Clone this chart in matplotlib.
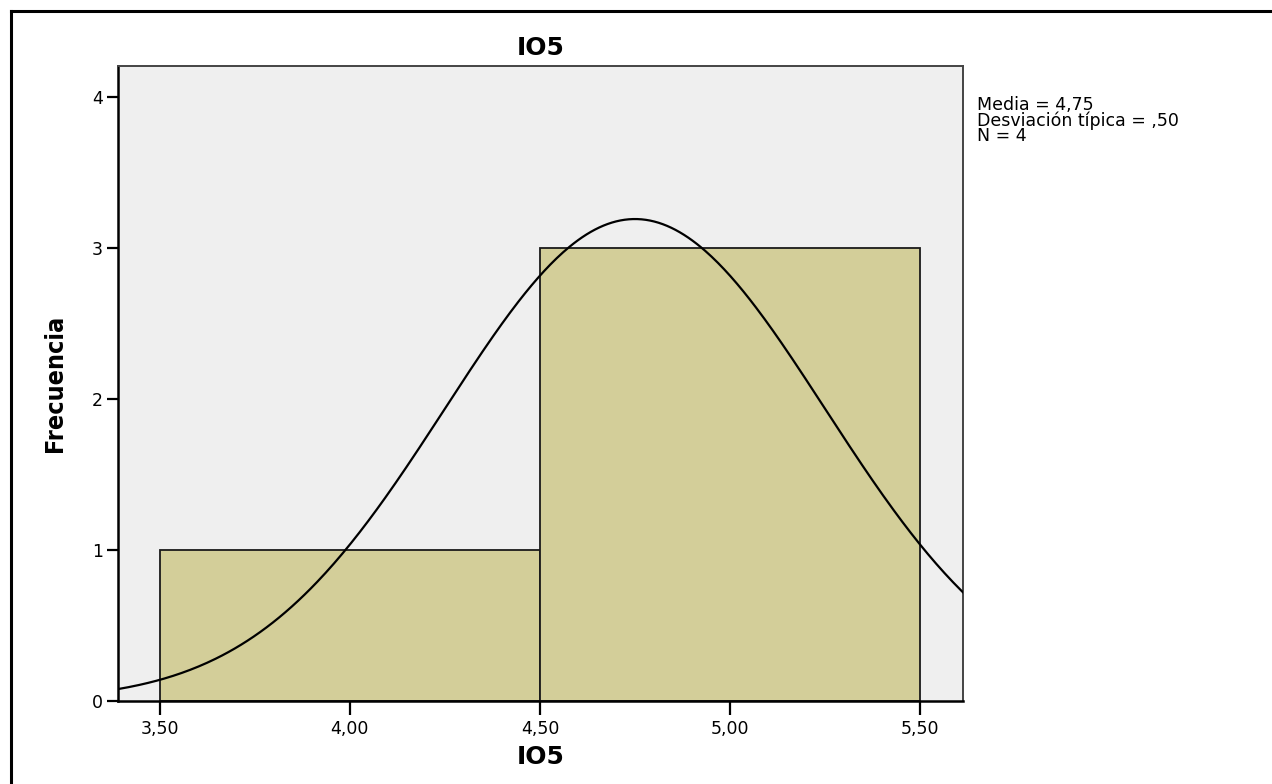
import numpy as np
import matplotlib
matplotlib.use("Agg")
import matplotlib.pyplot as plt
from matplotlib.lines import Line2D

# Histogram of IO5
bin_centers = [4.0, 5.0]
counts = [1, 3]
bin_width = 1.0
mean_val = 4.75
std_val = 0.50
n_obs = 4

x_ticks = [3.5, 4.0, 4.5, 5.0, 5.5]
x_tick_labels = ["3,50", "4,00", "4,50", "5,00", "5,50"]
y_ticks = [0, 1, 2, 3, 4]
stats_lines = ["Media = 4,75", "Desviación típica = ,50", "N = 4"]

W, H = 1272, 784
fig = plt.figure(figsize=(W / 100, H / 100), dpi=100)
fig.patch.set_facecolor("white")

ax = fig.add_axes([118 / W, 1 - 701 / H, (963 - 118) / W, (701 - 66) / H])
ax.set_facecolor("#efefef")

ax.bar(bin_centers, counts, width=bin_width, color="#d3ce99",
       edgecolor="#1a1a1a", linewidth=1.3, zorder=2)

xs = np.linspace(3.39, 5.615, 400)
pdf = n_obs * bin_width / (std_val * np.sqrt(2 * np.pi)) * \
    np.exp(-0.5 * ((xs - mean_val) / std_val) ** 2)
ax.plot(xs, pdf, color="black", linewidth=1.6, zorder=3)

ax.set_xlim(3.39, 5.613)
ax.set_ylim(0, 4.205)
ax.set_xticks(x_ticks)
ax.set_xticklabels(x_tick_labels)
ax.set_yticks(y_ticks)

ax.tick_params(axis="x", direction="out", length=10, width=1.6, pad=4,
               labelsize=12.5, colors="black")
ax.tick_params(axis="y", direction="out", length=8, width=1.6, pad=3,
               labelsize=12.5, colors="black")

for side in ("left", "bottom"):
    ax.spines[side].set_color("black")
    ax.spines[side].set_linewidth(1.8)
for side in ("top", "right"):
    ax.spines[side].set_color("#444444")
    ax.spines[side].set_linewidth(1.4)

ax.set_title("IO5", fontsize=18, fontweight="bold", pad=8)
ax.set_xlabel("IO5", fontsize=18, fontweight="bold", labelpad=5)
ax.set_ylabel("Frecuencia", fontsize=18, fontweight="bold",
              fontstretch="condensed", labelpad=18)

fig.text(977 / W, 1 - 96 / H, "\n".join(stats_lines), ha="left", va="top",
         fontsize=12.5, linespacing=0.82, color="black")

# Frame lines along the left and top of the figure
fig.add_artist(Line2D([11 / W, 11 / W], [0, 1 - 11 / H],
                      transform=fig.transFigure, color="black", linewidth=2.2))
fig.add_artist(Line2D([11 / W, 1], [1 - 11 / H, 1 - 11 / H],
                      transform=fig.transFigure, color="black", linewidth=2.2))

fig.savefig("out.png", dpi=100, facecolor="white")
